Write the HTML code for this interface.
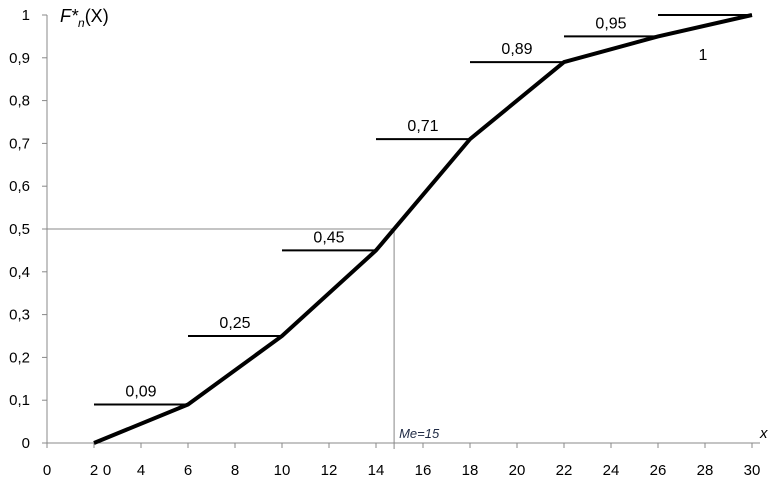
<!DOCTYPE html>
<html><head><meta charset="utf-8"><style>
body{margin:0;background:#fff;}
svg{display:block;font-family:"Liberation Sans",sans-serif;}
</style></head><body>
<svg id="c" width="775" height="487"></svg>
<script>
const xVals=[2,6,10,14,18,22,26,30];
const yVals=[0,0.09,0.25,0.45,0.71,0.89,0.95,1];
const stepLabels=["0,09","0,25","0,45","0,71","0,89","0,95"];
const xTicks=[0,2,4,6,8,10,12,14,16,18,20,22,24,26,28,30];
const yTicks=[0,0.1,0.2,0.3,0.4,0.5,0.6,0.7,0.8,0.9,1];
const median=14.77;
const X=v=>47+v*23.5, Y=v=>443-v*428;
const svg=document.getElementById('c');const NS='http://www.w3.org/2000/svg';
function mk(t,a,txt){const e=document.createElementNS(NS,t);for(const k in a)e.setAttribute(k,a[k]);if(txt!=null)e.textContent=txt;svg.appendChild(e);return e;}
let e;
e=mk('line',{x1:X(0),y1:Y(0),x2:760,y2:Y(0),stroke:'#888','stroke-width':1});

e=mk('line',{x1:X(0),y1:Y(0)+4,x2:X(0),y2:Y(1),stroke:'#888','stroke-width':1});

xTicks.forEach(t=>{
 e=mk('line',{x1:X(t),y1:Y(0),x2:X(t),y2:Y(0)+5,stroke:'#888'});
 
 e=mk('text',{x:X(t),y:475,'text-anchor':'middle','font-size':15,fill:'#000'},String(t));
 
});
e=mk('text',{x:X(2)+13,y:475,'text-anchor':'middle','font-size':15},'0');

yTicks.forEach(t=>{
 e=mk('line',{x1:X(0)-5,y1:Y(t),x2:X(0),y2:Y(t),stroke:'#888'});
 
 e=mk('text',{x:30,y:Y(t)+5,'text-anchor':'end','font-size':15},String(t).replace('.',','));
 
});
e=mk('polyline',{points:`${X(0)},${Y(0.5)} ${X(median)},${Y(0.5)} ${X(median)},${Y(0)+6}`,fill:'none',stroke:'#888','stroke-width':1});

e=mk('text',{x:X(median)+5,y:438,'font-size':13,'font-style':'italic',fill:'#1f2a44'},'Me=15');

for(let i=0;i<xVals.length-1;i++){
 e=mk('line',{x1:X(xVals[i]),y1:Y(yVals[i+1]),x2:X(xVals[i+1]),y2:Y(yVals[i+1]),stroke:'#000','stroke-width':2});
 
 if(i<stepLabels.length){
 e=mk('text',{x:(X(xVals[i])+X(xVals[i+1]))/2,y:Y(yVals[i+1])-8,'text-anchor':'middle','font-size':16},stepLabels[i]);
 }
}
e=mk('text',{x:703,y:60,'text-anchor':'middle','font-size':16},'1');

e=mk('polyline',{points:xVals.map((v,i)=>X(v)+','+Y(yVals[i])).join(' '),fill:'none',stroke:'#000','stroke-width':4,'stroke-linejoin':'miter'});

e=mk('text',{x:60,y:22,'font-size':18},'');

e.innerHTML='<tspan font-style="italic">F*</tspan><tspan font-style="italic" font-size="12" dy="5">n</tspan><tspan dy="-5">(X)</tspan>';
e=mk('text',{x:760,y:438,'font-size':15,'font-style':'italic'},'x');

</script>
</body></html>
